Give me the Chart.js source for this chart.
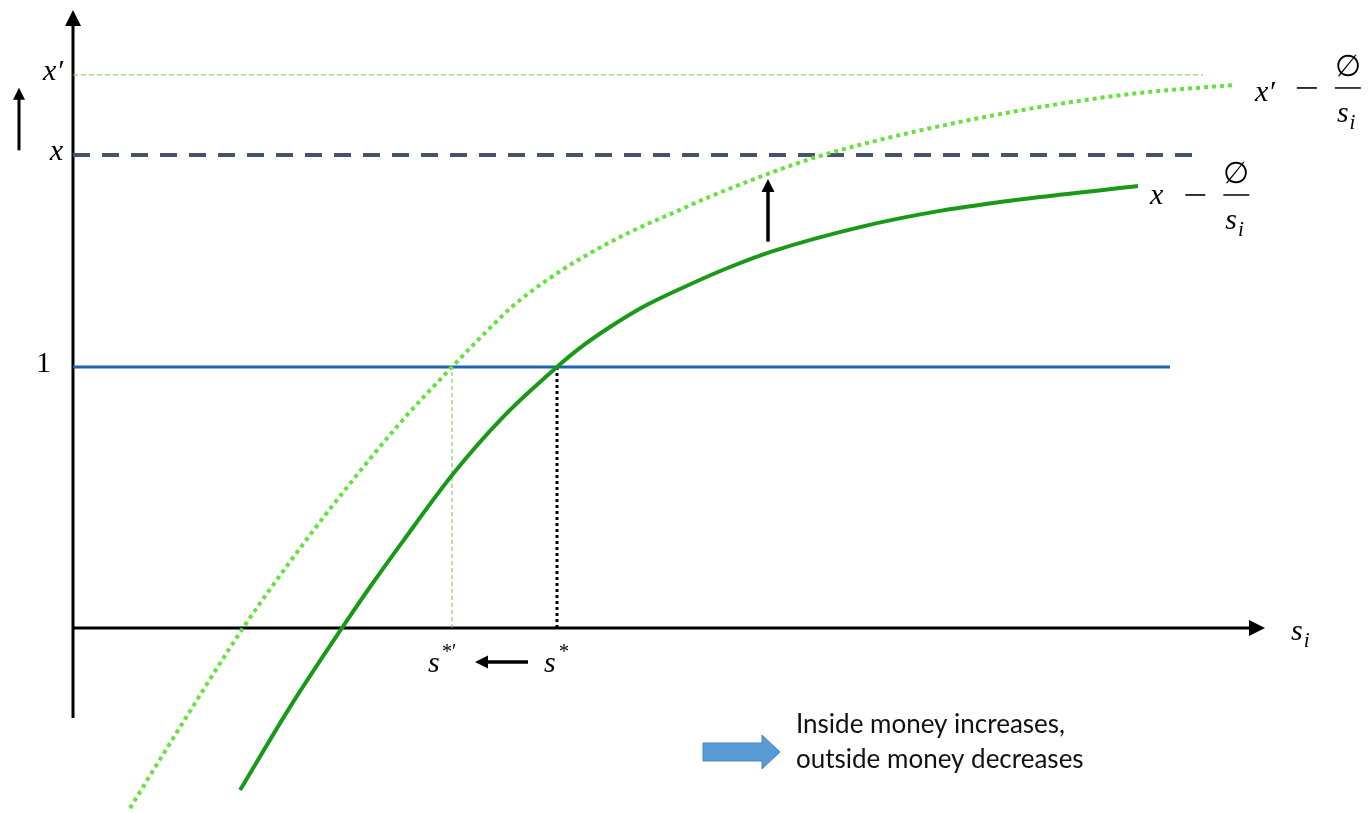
<!DOCTYPE html>
<html>
<head>
<meta charset="utf-8">
<script src="https://cdn.jsdelivr.net/npm/chart.js@4.4.1/dist/chart.umd.min.js"></script>
<style>
  html, body { margin: 0; padding: 0; background: #ffffff; }
  #diagram { display: block; }
</style>
</head>
<body>
<canvas id="diagram" width="1370" height="814"></canvas>
<script>
// curve x - Ø/s_i
const sSolid = [1.67, 2.17, 2.69, 2.97, 3.30, 3.80, 4.30, 4.84, 5.07, 5.37, 5.74, 6.07, 6.57, 7.00, 7.87, 8.67, 9.67, 10.65];
const ySolid = [-0.621, -0.303, 0.0, 0.157, 0.333, 0.590, 0.808, 1.0, 1.073, 1.153, 1.238, 1.299, 1.383, 1.444, 1.536, 1.598, 1.651, 1.693];

// curve x' - Ø/s_i (dotted)
const sDotted = [0.57, 1.14, 1.70, 2.14, 2.60, 3.27, 3.79, 4.07, 4.40, 4.74, 5.07, 5.57, 6.07, 6.34, 7.00, 7.44, 7.87, 8.67, 9.67, 10.67, 11.60];
const yDotted = [-0.690, -0.337, 0.0, 0.238, 0.471, 0.785, 1.0, 1.111, 1.234, 1.333, 1.414, 1.517, 1.602, 1.648, 1.747, 1.805, 1.851, 1.923, 1.996, 2.050, 2.080];

// horizontal levels and equilibrium points
const yTickValues = [1, 1.812, 2.119];
const yTickLabels = ["1", "x", "x′"];
const levelEnds = [10.97, 11.30, 11.30];
const sStar = 4.84;
const sStarPrime = 3.79;

// axis extents
const xAxisEnd = 11.92;
const yAxisTop = 2.368;
const yAxisBottom = -0.345;

const toPoints = (xs, ys) => xs.map((x, i) => ({ x: x, y: ys[i] }));

const mathFont = "'Liberation Serif', 'DejaVu Serif', serif";

function arrowHead(ctx, x1, y1, x2, y2, size, color) {
    const a = Math.atan2(y2 - y1, x2 - x1);
    ctx.save();
    ctx.fillStyle = color;
    ctx.beginPath();
    ctx.moveTo(x2, y2);
    ctx.lineTo(x2 - size * Math.cos(a) + size * 0.5 * Math.sin(a), y2 - size * Math.sin(a) - size * 0.5 * Math.cos(a));
    ctx.lineTo(x2 - size * Math.cos(a) - size * 0.5 * Math.sin(a), y2 - size * Math.sin(a) + size * 0.5 * Math.cos(a));
    ctx.closePath();
    ctx.fill();
    ctx.restore();
}

function arrow(ctx, x1, y1, x2, y2, width, size) {
    const a = Math.atan2(y2 - y1, x2 - x1);
    ctx.save();
    ctx.strokeStyle = "#000";
    ctx.lineWidth = width;
    ctx.beginPath();
    ctx.moveTo(x1, y1);
    ctx.lineTo(x2 - size * 0.8 * Math.cos(a), y2 - size * 0.8 * Math.sin(a));
    ctx.stroke();
    ctx.restore();
    arrowHead(ctx, x1, y1, x2, y2, size, "#000");
}

// s with subscript i
function drawSi(ctx, x, y, size) {
    ctx.font = "italic " + size + "px " + mathFont;
    ctx.textAlign = "left";
    ctx.fillText("s", x, y);
    const w = ctx.measureText("s").width;
    ctx.font = "italic " + Math.round(size * 0.7) + "px " + mathFont;
    ctx.fillText("i", x + w + 1, y + size * 0.22);
}

// "lead − Ø / s_i"
function curveLabel(ctx, lead, px, py, drop) {
    ctx.fillStyle = "#000";
    ctx.strokeStyle = "#000";
    ctx.textBaseline = "alphabetic";
    ctx.font = "italic 30px " + mathFont;
    ctx.textAlign = "left";
    ctx.fillText(lead, px, py + drop);
    const lw = ctx.measureText(lead).width;
    const mx = px + lw + 22;
    ctx.lineWidth = 1.6;
    ctx.beginPath();
    ctx.moveTo(mx, py);
    ctx.lineTo(mx + 20, py);
    ctx.stroke();
    const fx = mx + 38;
    ctx.lineWidth = 1.5;
    ctx.beginPath();
    ctx.moveTo(fx, py);
    ctx.lineTo(fx + 26, py);
    ctx.stroke();
    ctx.font = "30px 'DejaVu Serif', serif";
    ctx.textAlign = "center";
    ctx.fillText("∅", fx + 13, py - 12);
    drawSi(ctx, fx + 2, py + 34, 30);
}

const annotations = {
    id: "annotations",
    afterDatasetsDraw(chart) {
        const ctx = chart.ctx;
        const sx = chart.scales.x;
        const sy = chart.scales.y;
        const X = (v) => sx.getPixelForValue(v);
        const Y = (v) => sy.getPixelForValue(v);
        ctx.save();

        // axis arrow heads
        arrowHead(ctx, X(0), Y(0), X(xAxisEnd), Y(0), 16, "#000");
        arrowHead(ctx, X(0), Y(0), X(0), Y(yAxisTop), 16, "#000");

        // y tick labels
        ctx.fillStyle = "#000";
        ctx.textBaseline = "middle";
        ctx.textAlign = "right";
        yTickValues.forEach((v, i) => {
            ctx.font = (i === 0 ? "" : "italic ") + "30px " + mathFont;
            ctx.fillText(yTickLabels[i], X(0) - (i === 0 ? 22 : 10), Y(v) - 3);
        });

        // small shift arrows
        arrow(ctx, X(-0.54), Y(1.83), X(-0.54), Y(2.07), 3, 12);
        arrow(ctx, X(6.95), Y(1.48), X(6.95), Y(1.72), 3.5, 13);
        arrow(ctx, X(4.55), Y(-0.13), X(4.02), Y(-0.13), 3.5, 13);

        // s labels
        ctx.textBaseline = "alphabetic";
        ctx.font = "italic 30px " + mathFont;
        ctx.textAlign = "left";
        ctx.fillText("s", X(sStarPrime) - 24, Y(-0.13) + 10);
        ctx.font = "20px " + mathFont;
        ctx.fillText("*′", X(sStarPrime) - 10, Y(-0.13) - 4);
        ctx.font = "italic 30px " + mathFont;
        ctx.fillText("s", X(sStar) - 13, Y(-0.13) + 10);
        ctx.font = "20px " + mathFont;
        ctx.fillText("*", X(sStar) + 2, Y(-0.13) - 4);
        drawSi(ctx, X(xAxisEnd) + 26, Y(0) + 12, 30);

        // curve labels
        curveLabel(ctx, "x′", X(11.82), Y(2.069), 13);
        curveLabel(ctx, "x", X(10.77), Y(1.659), 9);

        // block arrow and note
        const bx = X(6.30), by = Y(-0.475);
        ctx.fillStyle = "#5b9bd5";
        ctx.strokeStyle = "#4a86be";
        ctx.lineWidth = 1;
        ctx.beginPath();
        ctx.moveTo(bx, by - 9);
        ctx.lineTo(bx + 59, by - 9);
        ctx.lineTo(bx + 59, by - 17);
        ctx.lineTo(bx + 77, by);
        ctx.lineTo(bx + 59, by + 17);
        ctx.lineTo(bx + 59, by + 9);
        ctx.lineTo(bx, by + 9);
        ctx.closePath();
        ctx.fill();
        ctx.stroke();

        ctx.fillStyle = "#111";
        ctx.font = "26px Lato, 'Open Sans', sans-serif";
        ctx.textAlign = "left";
        ctx.textBaseline = "middle";
        ctx.fillText("Inside money increases,", X(7.23), Y(-0.372));
        ctx.fillText("outside money decreases", X(7.23), Y(-0.506));
        ctx.restore();
    }
};

const lineSet = (data, color, width, dash, order) => ({
    data: data,
    showLine: true,
    borderColor: color,
    borderWidth: width,
    borderDash: dash,
    pointRadius: 0,
    fill: false,
    order: order
});

const solid = lineSet(toPoints(sSolid, ySolid), "#189a18", 4, [], 1);
solid.cubicInterpolationMode = "monotone";
const dotted = lineSet(toPoints(sDotted, yDotted), "#66e23e", 4, [4, 4], 2);
dotted.cubicInterpolationMode = "monotone";

new Chart(document.getElementById("diagram"), {
    type: "scatter",
    data: {
        datasets: [
            solid,
            dotted,
            lineSet([{ x: sStar, y: 0 }, { x: sStar, y: 1 }], "#000", 3, [3, 3], 3),
            lineSet([{ x: sStarPrime, y: 0 }, { x: sStarPrime, y: 1 }], "#6cc040", 1, [4, 3], 3),
            lineSet([{ x: 0, y: yTickValues[0] }, { x: levelEnds[0], y: yTickValues[0] }], "#1f63b5", 3, [], 4),
            lineSet([{ x: 0, y: yTickValues[1] }, { x: levelEnds[1], y: yTickValues[1] }], "#44546a", 4, [17, 12], 4),
            lineSet([{ x: 0, y: yTickValues[2] }, { x: levelEnds[2], y: yTickValues[2] }], "#7ccf4a", 1, [5, 3], 4),
            lineSet([{ x: 0, y: 0 }, { x: xAxisEnd - 0.1, y: 0 }], "#000", 3, [], 5),
            lineSet([{ x: 0, y: yAxisBottom }, { x: 0, y: yAxisTop - 0.05 }], "#000", 3, [], 5)
        ]
    },
    options: {
        responsive: false,
        animation: false,
        events: [],
        layout: { padding: 0 },
        plugins: {
            legend: { display: false },
            tooltip: { enabled: false }
        },
        scales: {
            x: { type: "linear", display: false, min: -0.73, max: 12.97 },
            y: { type: "linear", display: false, min: -0.7126, max: 2.406 }
        }
    },
    plugins: [annotations]
});
</script>
</body>
</html>
